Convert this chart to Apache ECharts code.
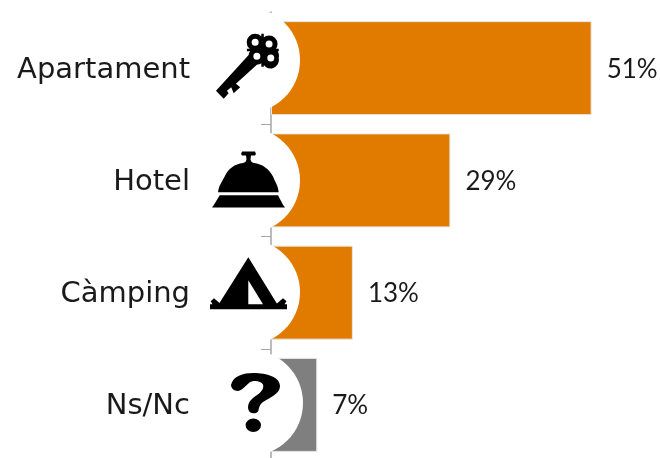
<!DOCTYPE html>
<html>
<head>
<meta charset="utf-8">
<style>html,body{margin:0;padding:0;background:#fff}#c{width:660px;height:458px}</style>
<script src="https://cdn.jsdelivr.net/npm/echarts@6/dist/echarts.min.js"></script>
</head>
<body>
<div id="c"></div>
<script>
var categories = ['Apartament', 'Hotel', 'Càmping', 'Ns/Nc'];
var shares = [51.3, 28.7, 13.1, 7.4];

var keyIcon = 'path://M30.8 8.7A8.5 8.5 0 1 1 47.8 8.7A8.5 8.5 0 1 1 30.8 8.7Z M35.8 8.7A3.5 3.5 0 1 0 42.8 8.7A3.5 3.5 0 1 0 35.8 8.7Z ' +
  'M44.8 10.3A8.5 8.5 0 1 1 61.8 10.3A8.5 8.5 0 1 1 44.8 10.3Z M49.8 10.3A3.5 3.5 0 1 0 56.8 10.3A3.5 3.5 0 1 0 49.8 10.3Z ' +
  'M32.5 22.7A8.5 8.5 0 1 1 49.5 22.7A8.5 8.5 0 1 1 32.5 22.7Z M37.5 22.7A3.5 3.5 0 1 0 44.5 22.7A3.5 3.5 0 1 0 37.5 22.7Z ' +
  'M46.5 24.3A8.5 8.5 0 1 1 63 24.3A8.5 8.5 0 1 1 46.5 24.3Z M51.5 24.3A3.5 3.5 0 1 0 58.5 24.3A3.5 3.5 0 1 0 51.5 24.3Z ' +
  'M45.5 0H48V33H45.5Z M31 15.2H63V17.7H31Z M45 13H50.5V19.5H45Z ' +
  'M41 31L20 50L24.3 53.5L17.7 59.5L15.3 53.5L11 57L12.7 59.5L7.7 65L0 57L33 21Z';
var bellIcon = 'path://M30 0H43Q44.5 2 43 4H39L38.5 8Q39 11 42 11.5C50 12.5 57 17 61 25C63 30 66 34 66.7 40.4H6C7 34 10 30 12.7 25C16 17 23 12.5 31 11.5Q34 11 34.5 8L34 4H30Q28.5 2 30 0Z ' +
  'M7.7 43.4H66L71 53L73 55.5H0L2 53Z';
var tentIcon = 'path://M38.3 0L67.3 47H53L38.3 23V47H8.7Z ' +
  'M0 52V47H2.5L0.7 44L4 41L11 47H66L73 41L76.5 44L74.5 47H77V52Z';
var askIcon = 'path://M0 12C2 3 12 0 22.3 0C36 0 49 4 49 13.3C49 21 38 25 32 29C29 31 28 34 27.3 38C26 41 19 42 17.3 36.7C16 30 20 26 26 22C31 19 33 15 32 11.7C30 8 22 7 18 10C14 13 12 17 7 18C3 18 0 15 0 12Z ' +
  'M14.6 52.3A7.7 6.7 0 1 1 30 52.3A7.7 6.7 0 1 1 14.6 52.3Z';

var icons = [keyIcon, bellIcon, tentIcon, askIcon];
var iconSizes = [[63, 65], [73, 56], [77, 52], [49, 59]];
var iconOffsets = [[-23.5, -2], [-22.5, -1], [-22.5, -9.5], [-15.5, -2.5]];
var discOffsets = [[-24, -8], [-24, 0], [-24, -0.5], [-21, -2]];
var barColors = ['#e07b00', '#e07b00', '#e07b00', '#7f7f7f'];
var categoryFont = 'DejaVu Sans';
var valueFont = 'Lato';

var chart = echarts.init(document.getElementById('c'), null, {renderer: 'canvas'});
chart.setOption({
  animation: false,
  backgroundColor: '#fff',
  grid: {left: 271, top: 12, width: 375, height: 449, containLabel: false, outerBoundsMode: 'none'},
  xAxis: {type: 'value', min: 0, max: 60, show: false},
  yAxis: {
    type: 'category', inverse: true, data: categories,
    axisLine: {show: true, lineStyle: {color: '#a6a6a6', width: 1.5}},
    axisTick: {show: true, length: 10, lineStyle: {color: '#a6a6a6', width: 1}},
    axisLabel: {
      margin: 81,
      formatter: function (v) { return '{name|' + v + '}'; },
      rich: {name: {fontSize: 29, fontFamily: categoryFont, color: '#1a1a1a', padding: [4, 0, 0, 0]}}
    }
  },
  series: [
    {
      type: 'bar', barWidth: 94, z: 2,
      data: shares.map(function (v, i) {
        return {value: v, itemStyle: {color: barColors[i], borderColor: '#e6e6e6', borderWidth: 1}};
      }),
      label: {
        show: true, position: 'right', distance: 15, offset: [0, 1], fontSize: 26, fontFamily: valueFont, color: '#1a1a1a',
        formatter: function (p) { return Math.round(p.value) + '%'; }
      }
    },
    {
      type: 'scatter', z: 3, clip: false, silent: true,
      data: categories.map(function (c, i) {
        return {value: [0, c], symbol: 'circle', symbolSize: 106, symbolOffset: discOffsets[i], itemStyle: {color: '#fff', opacity: 1, borderWidth: 0}};
      })
    },
    {
      type: 'scatter', z: 4, clip: false, silent: true,
      data: categories.map(function (c, i) {
        return {value: [0, c], symbol: icons[i], symbolSize: iconSizes[i], symbolKeepAspect: false, symbolOffset: iconOffsets[i], itemStyle: {color: '#000', opacity: 1, borderWidth: 0}};
      })
    }
  ]
});
</script>
</body>
</html>
